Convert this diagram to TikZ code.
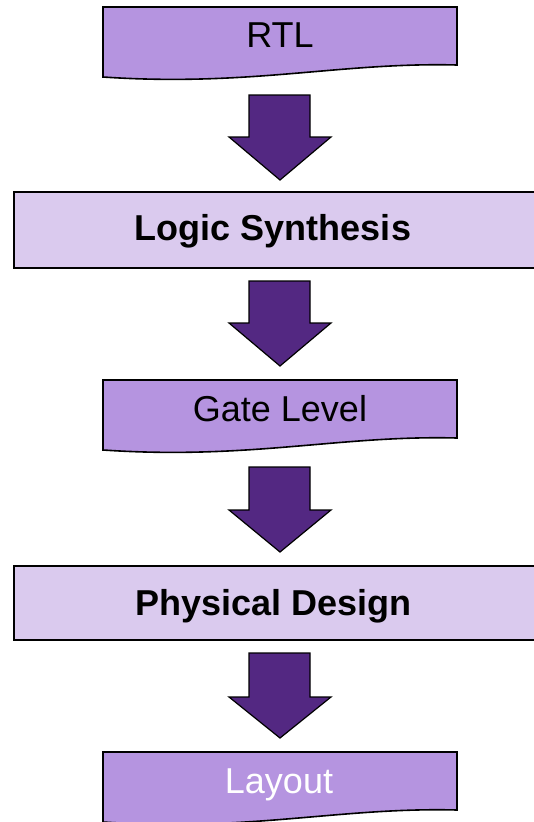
\documentclass[tikz,border=0pt]{standalone}
\usepackage{fontspec}
\setmainfont{Liberation Sans}
\definecolor{docfill}{RGB}{181,148,224}
\definecolor{procfill}{RGB}{218,202,238}
\definecolor{flowarrow}{RGB}{83,40,130}
\begin{document}
\begin{tikzpicture}[x=1pt,y=-1pt,
  doctext/.style={anchor=base,font=\fontsize{36}{40}\selectfont,inner sep=0pt},
  proctext/.style={anchor=base,font=\fontsize{36}{40}\selectfont\bfseries,inner sep=0pt},
  docshape/.style={draw=black,line width=1.6pt,fill=docfill},
  procshape/.style={draw=black,line width=1.8pt,fill=procfill},
  blockarrow/.style={draw=black,line width=1.2pt,fill=flowarrow,line join=miter}]
\useasboundingbox (0,0) rectangle (534,822);

% document-shaped boxes (wavy bottom edge), top y given
\foreach \t in {7,380,752}{
  \draw[docshape] (103,\t) -- (457,\t) -- (457,\t+58)
    .. controls (340,\t+55) and (250,\t+80) .. (103,\t+70) -- cycle;
}
% process boxes
\draw[procshape] (14,192) rectangle (540,268);
\draw[procshape] (14,566) rectangle (540,640);

% block arrows: top y, shoulder y, tip y
\foreach \a/\b/\c in {95/137/180, 281/323/366, 467/510/552, 653/697/738}{
  \draw[blockarrow] (249,\a) -- (310,\a) -- (310,\b) -- (331,\b) -- (280,\c)
    -- (229,\b) -- (249,\b) -- cycle;
}

\node[doctext] (rtl) at (280,47) {RTL};
\node[proctext] (synth) at (273,240) {Logic Synthesis};
\node[doctext] (gate) at (280,421) {Gate Level};
\node[proctext] (phys) at (273.5,615) {Physical Design};
\node[doctext,text=white] (layout) at (279,793) {Layout};
\end{tikzpicture}
\end{document}
